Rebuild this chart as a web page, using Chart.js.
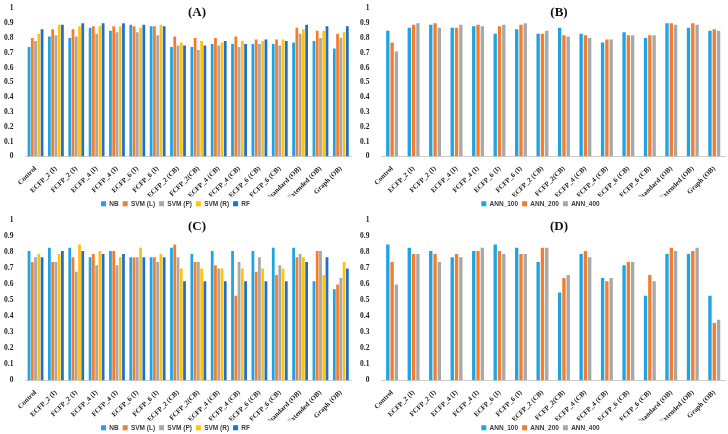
<!DOCTYPE html>
<html lang="en">
<head>
  <meta charset="UTF-8">
  <title>Fingerprint model scores</title>
  <style>
    body {
      margin: 0;
      background: #ffffff;
      width: 728px;
      height: 434px;
      position: relative;
      overflow: hidden;
    }
    .panel { position: absolute; }
    .tag {
      position: absolute;
      font-family: "Liberation Serif", "Times New Roman", serif;
      font-weight: bold;
      font-size: 13px;
      color: #111;
      transform: translateX(-50%);
    }
  </style>
</head>
<body>
  <div class="panel" style="left:0;top:0"><canvas id="chartA" width="364" height="217"></canvas></div>
  <div class="panel" style="left:352px;top:0"><canvas id="chartB" width="376" height="217"></canvas></div>
  <div class="panel" style="left:0;top:212px"><canvas id="chartC" width="364" height="229"></canvas></div>
  <div class="panel" style="left:352px;top:212px"><canvas id="chartD" width="376" height="229"></canvas></div>

  <div class="tag" style="left:197px;top:4px">(A)</div>
  <div class="tag" style="left:559px;top:4px">(B)</div>
  <div class="tag" style="left:197px;top:218px">(C)</div>
  <div class="tag" style="left:559px;top:218px">(D)</div>

  <script src="https://cdn.jsdelivr.net/npm/chart.js"></script>
  <script>
    const categories = ["Control", "ECFP_2 (I)", "FCFP_2 (I)", "ECFP_4 (I)", "FCFP_4 (I)", "ECFP_6 (I)",
      "FCFP_6 (I)", "ECFP_2 (CB)", "FCFP_2(CB)", "ECFP_4 (CB)", "FCFP_4 (CB)", "ECFP_6 (CB)",
      "FCFP_6 (CB)", "Standard (OB)", "Extended (OB)", "Graph (OB)"];

    const classicNames = ["NB", "SVM (L)", "SVM (P)", "SVM (R)", "RF"];
    const classicColors = ["#1ea4e3", "#f57c2f", "#a8a8a8", "#ffc20e", "#1f6fce"];
    const annNames = ["ANN_100", "ANN_200", "ANN_400"];
    const annColors = ["#1ea4e3", "#f57c2f", "#a8a8a8"];

    const yTicks = [0, 0.1, 0.2, 0.3, 0.4, 0.5, 0.6, 0.7, 0.8, 0.9, 1];

    // panel A
    const aNB   = [0.74, 0.81, 0.80, 0.87, 0.85, 0.89, 0.88, 0.74, 0.74, 0.76, 0.76, 0.76, 0.76, 0.77, 0.78, 0.73];
    const aSVML = [0.80, 0.86, 0.86, 0.88, 0.88, 0.88, 0.88, 0.81, 0.80, 0.80, 0.81, 0.79, 0.79, 0.87, 0.85, 0.83];
    const aSVMP = [0.78, 0.82, 0.81, 0.83, 0.84, 0.84, 0.82, 0.75, 0.72, 0.75, 0.74, 0.76, 0.75, 0.83, 0.80, 0.80];
    const aSVMR = [0.83, 0.89, 0.88, 0.88, 0.88, 0.87, 0.89, 0.77, 0.78, 0.77, 0.78, 0.78, 0.79, 0.86, 0.85, 0.84];
    const aRF   = [0.86, 0.89, 0.90, 0.90, 0.90, 0.89, 0.88, 0.75, 0.75, 0.78, 0.76, 0.79, 0.78, 0.89, 0.88, 0.88];

    // panel B
    const bANN100 = [0.85, 0.87, 0.89, 0.87, 0.88, 0.83, 0.86, 0.83, 0.87, 0.83, 0.77, 0.84, 0.80, 0.90, 0.87, 0.85];
    const bANN200 = [0.77, 0.89, 0.90, 0.87, 0.89, 0.88, 0.89, 0.83, 0.82, 0.82, 0.79, 0.82, 0.82, 0.90, 0.90, 0.86];
    const bANN400 = [0.71, 0.90, 0.87, 0.89, 0.88, 0.89, 0.90, 0.85, 0.81, 0.80, 0.79, 0.82, 0.82, 0.89, 0.89, 0.85];

    // panel C
    const cNB   = [0.81, 0.83, 0.83, 0.77, 0.81, 0.77, 0.77, 0.83, 0.79, 0.81, 0.81, 0.81, 0.83, 0.83, 0.62, 0.57];
    const cSVML = [0.74, 0.74, 0.77, 0.79, 0.81, 0.77, 0.77, 0.85, 0.74, 0.72, 0.53, 0.68, 0.66, 0.77, 0.81, 0.60];
    const cSVMP = [0.77, 0.74, 0.68, 0.72, 0.72, 0.77, 0.74, 0.77, 0.74, 0.70, 0.74, 0.77, 0.72, 0.79, 0.81, 0.64];
    const cSVMR = [0.79, 0.79, 0.85, 0.81, 0.77, 0.83, 0.79, 0.70, 0.70, 0.70, 0.70, 0.70, 0.70, 0.77, 0.66, 0.74];
    const cRF   = [0.77, 0.81, 0.81, 0.79, 0.79, 0.77, 0.77, 0.62, 0.62, 0.62, 0.62, 0.62, 0.62, 0.74, 0.77, 0.70];

    // panel D
    const dANN100 = [0.85, 0.83, 0.81, 0.77, 0.81, 0.85, 0.83, 0.74, 0.55, 0.79, 0.64, 0.72, 0.53, 0.79, 0.79, 0.53];
    const dANN200 = [0.74, 0.79, 0.79, 0.79, 0.81, 0.81, 0.79, 0.83, 0.64, 0.81, 0.62, 0.74, 0.66, 0.83, 0.81, 0.36];
    const dANN400 = [0.60, 0.79, 0.74, 0.77, 0.83, 0.79, 0.79, 0.83, 0.66, 0.77, 0.64, 0.74, 0.62, 0.81, 0.83, 0.38];

    function buildSets(names, colors, rows, catPct, barPct) {
      return names.map((name, i) => ({
        label: name,
        data: rows[i],
        backgroundColor: colors[i],
        borderWidth: 0,
        categoryPercentage: catPct,
        barPercentage: barPct
      }));
    }

    function makeChart(id, datasets, padding, xHeight) {
      const ctx = document.getElementById(id).getContext("2d");
      return new Chart(ctx, {
        type: "bar",
        data: { labels: categories, datasets: datasets },
        options: {
          responsive: false,
          animation: false,
          layout: { padding: padding },
          scales: {
            x: {
              afterFit: axis => { axis.height = xHeight; },
              grid: { display: false },
              border: { display: true, color: "#d0d0d0" },
              ticks: {
                minRotation: 45,
                maxRotation: 45,
                autoSkip: false,
                padding: 0,
                color: "#222",
                font: { family: "'Liberation Serif', 'Times New Roman', serif", size: 7, weight: "bold" }
              }
            },
            y: {
              min: 0,
              max: 1,
              afterBuildTicks: axis => { axis.ticks = yTicks.map(v => ({ value: v })); },
              grid: { display: false },
              border: { display: false },
              ticks: {
                padding: 4,
                color: "#222",
                callback: v => String(+v.toFixed(1)),
                font: { family: "'Liberation Serif', 'Times New Roman', serif", size: 7.5, weight: "bold" }
              }
            }
          },
          plugins: {
            legend: {
              position: "bottom",
              labels: {
                boxWidth: 5,
                boxHeight: 5,
                padding: 4,
                color: "#3a3a3a",
                font: { family: "'Liberation Sans', Arial, sans-serif", size: 6.5, weight: "bold" }
              }
            },
            tooltip: { enabled: false }
          }
        }
      });
    }

    makeChart("chartA", buildSets(classicNames, classicColors, [aNB, aSVML, aSVMP, aSVMR, aRF], 0.8, 0.85),
      { left: 0, right: 13, top: 0, bottom: 0 }, 40);
    makeChart("chartB", buildSets(annNames, annColors, [bANN100, bANN200, bANN400], 0.6, 0.78),
      { left: 4, right: 3, top: 0, bottom: 0 }, 40);
    makeChart("chartC", buildSets(classicNames, classicColors, [cNB, cSVML, cSVMP, cSVMR, cRF], 0.8, 0.85),
      { left: 0, right: 13, top: 2, bottom: 0 }, 40);
    makeChart("chartD", buildSets(annNames, annColors, [dANN100, dANN200, dANN400], 0.6, 0.78),
      { left: 4, right: 3, top: 2, bottom: 0 }, 40);
  </script>
</body>
</html>
